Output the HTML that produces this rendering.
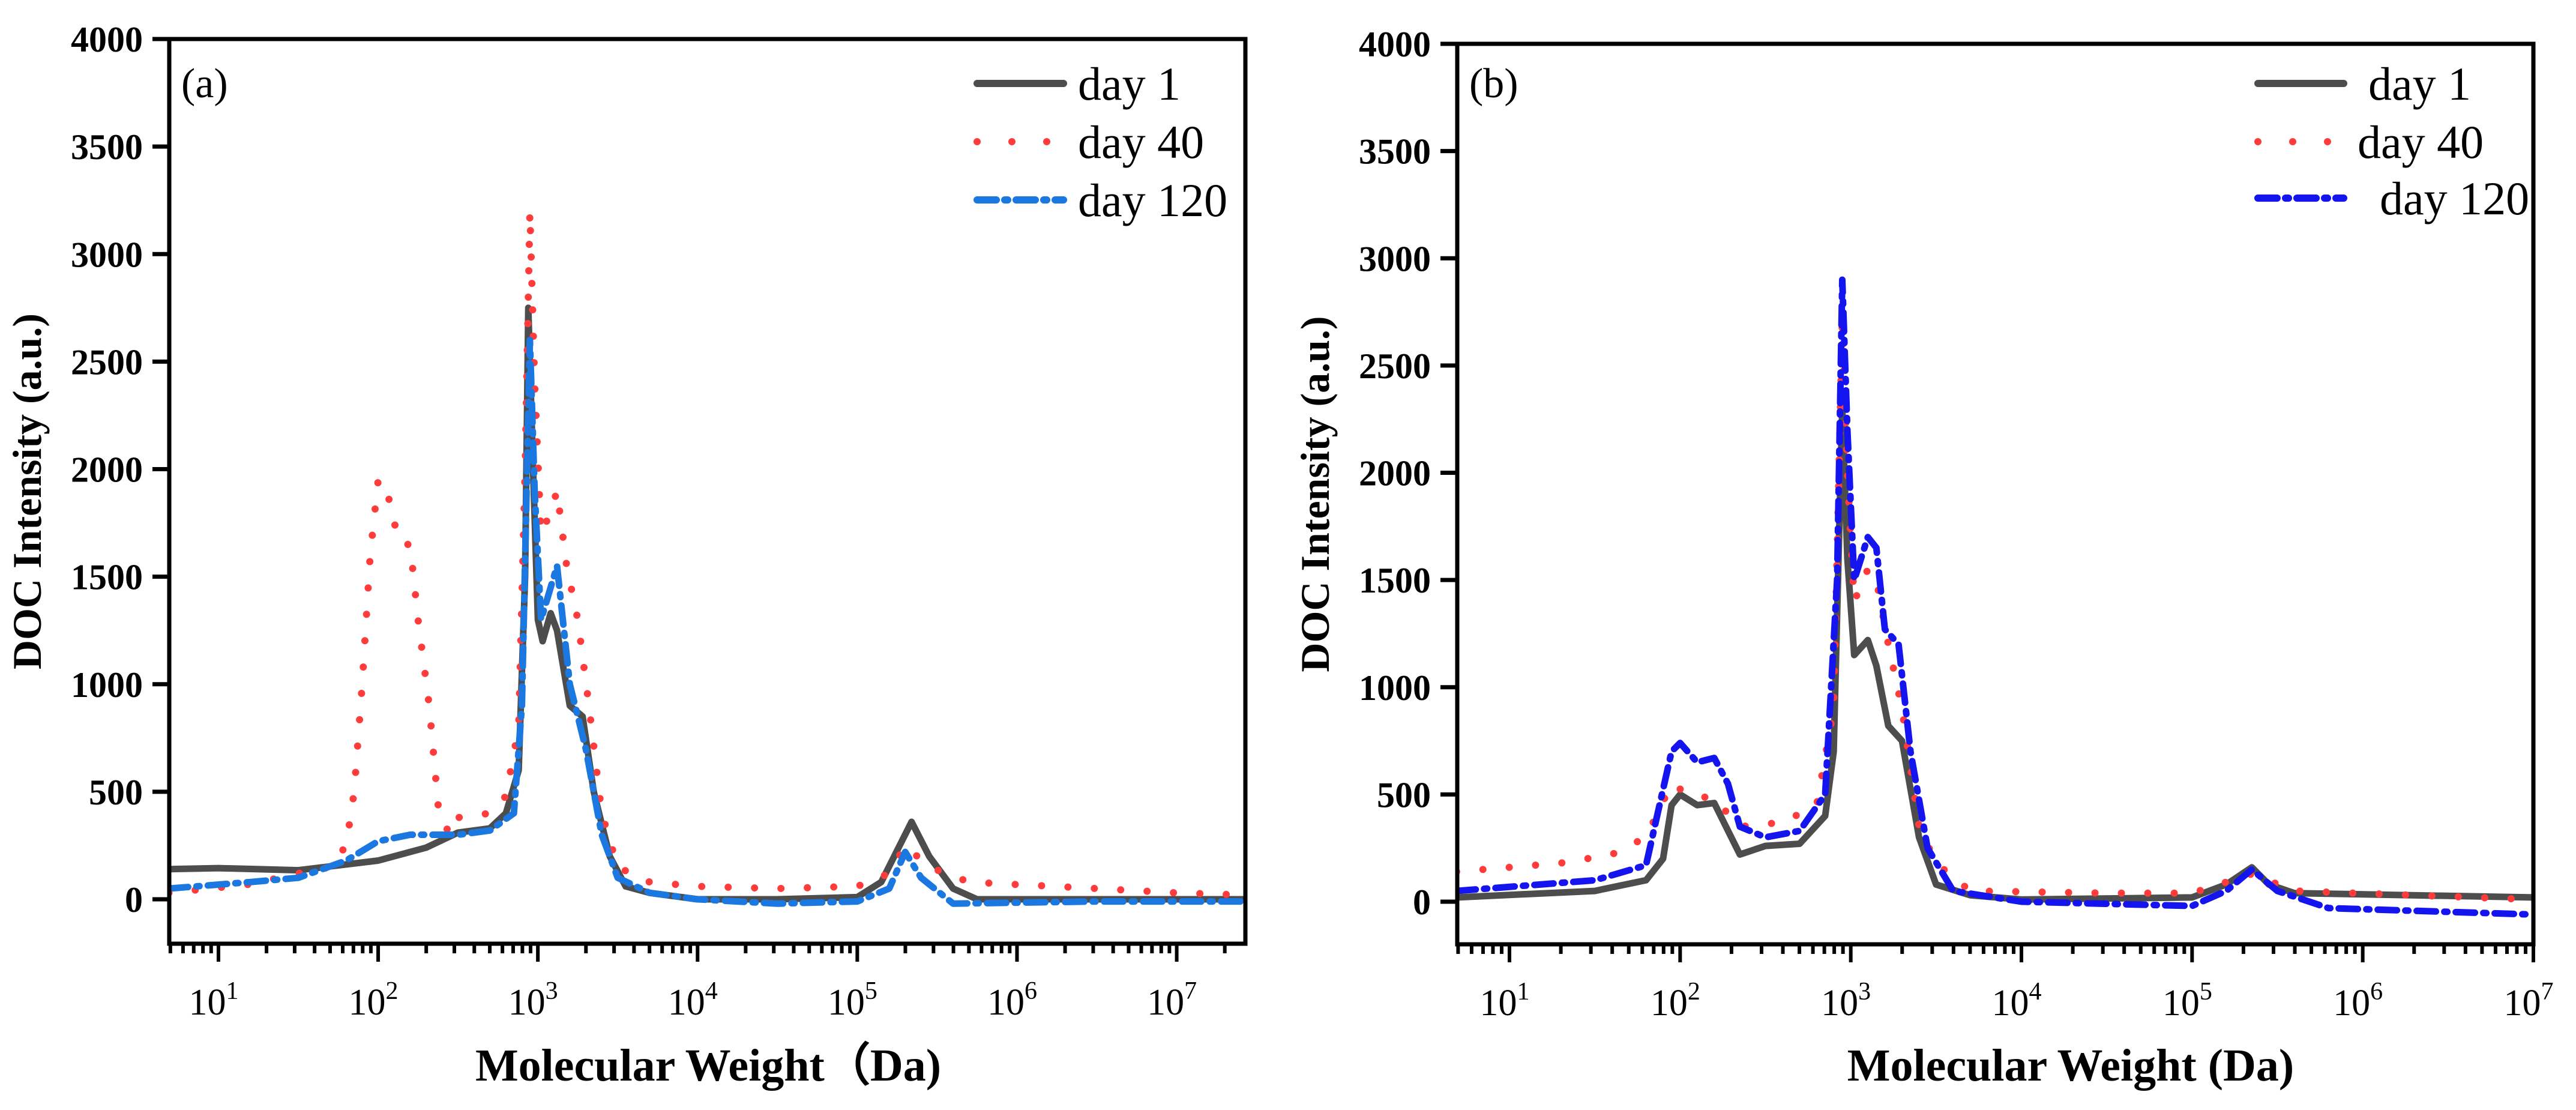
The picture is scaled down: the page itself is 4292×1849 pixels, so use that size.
<!DOCTYPE html>
<html><head><meta charset="utf-8"><style>
html,body{margin:0;padding:0;background:#fff}
svg text{font-family:"Liberation Serif",serif}
</style></head><body>
<svg id="chart" width="4292" height="1844" viewBox="0 0 4292 1844" xmlns="http://www.w3.org/2000/svg">
</svg>
<script>
// ---- Panel (a) data: log10(MW) and intensity ----
const aDay1X = [0.69,1,1.5,2,2.3,2.5,2.7,2.8,2.88,2.92,2.94,2.97,3.0,3.03,3.08,3.12,3.2,3.28,3.35,3.45,3.55,3.7,4,4.5,5,5.15,5.34,5.45,5.6,5.75,6.5,7.43];
const aDay1Y = [140,145,135,180,240,310,330,400,600,1500,2750,2000,1300,1200,1330,1250,900,850,500,200,60,30,0,0,10,80,360,200,50,0,0,0];
const aDay40X = [0.69,1.2,1.5,1.7,1.8,1.85,1.9,1.95,2.0,2.05,2.1,2.15,2.2,2.25,2.32,2.38,2.45,2.5,2.7,2.8,2.88,2.92,2.95,2.98,3.02,3.08,3.12,3.18,3.25,3.32,3.4,3.5,3.7,4,4.5,5,5.2,5.3,5.45,5.7,6.5,7,7.43];
const aDay40Y = [30,70,120,150,250,500,1000,1600,1950,1920,1750,1650,1650,1300,900,400,300,380,400,480,800,2000,3200,2400,1700,1800,1900,1550,1300,900,400,150,80,60,50,60,120,250,150,80,50,30,20];
const aDay120X = [0.69,1.2,1.5,1.8,2.0,2.2,2.5,2.7,2.85,2.9,2.95,2.98,3.02,3.08,3.12,3.2,3.3,3.4,3.5,3.7,4,4.5,5,5.2,5.3,5.4,5.6,6.5,7.43];
const aDay120Y = [50,80,100,180,270,300,300,320,400,900,2600,1900,1300,1450,1550,1000,700,300,100,30,0,-20,-10,50,220,100,-20,-10,-10];
// ---- Panel (b) data ----
const bDay1X = [0.69,1.5,1.8,1.9,1.95,2.0,2.1,2.2,2.3,2.35,2.5,2.7,2.85,2.9,2.95,2.98,3.02,3.1,3.15,3.22,3.3,3.4,3.5,3.7,4,5,5.2,5.35,5.45,5.6,7];
const bDay1Y = [20,50,100,200,450,500,450,460,300,220,260,270,400,700,2300,1600,1150,1220,1100,820,750,300,80,30,10,20,80,160,80,40,20];
const bDay40X = [0.69,1.3,1.6,1.8,1.95,2.05,2.2,2.35,2.6,2.8,2.9,2.95,2.98,3.02,3.1,3.15,3.22,3.3,3.4,3.5,3.7,4.5,5,5.35,5.6,7];
const bDay40Y = [140,180,220,300,550,500,480,350,370,450,900,2700,2000,1400,1550,1500,1200,900,350,180,50,40,40,130,50,10];
const bDay120X = [0.69,1.5,1.8,1.95,2.0,2.1,2.2,2.28,2.35,2.5,2.7,2.85,2.92,2.95,2.98,3.02,3.1,3.15,3.2,3.28,3.35,3.45,3.6,4,5,5.2,5.35,5.5,5.8,7];
const bDay120Y = [50,100,170,700,740,650,670,550,350,300,330,500,1500,2900,2200,1500,1700,1650,1270,1200,700,250,50,0,-20,50,150,50,-30,-60];
const yTicks = [0,500,1000,1500,2000,2500,3000,3500,4000];
const xDecades = [1,2,3,4,5,6,7];
const legendLabels = ["day 1","day 40","day 120"];

const NS="http://www.w3.org/2000/svg";
const svg=document.getElementById('chart');
function mk(tag,attrs,parent){const e=document.createElementNS(NS,tag);for(const k in attrs)e.setAttribute(k,attrs[k]);(parent||svg).appendChild(e);return e;}

function panel(cfg){
  const g=mk('g',{});
  
  
  const sx=v=>cfg.L+(v-cfg.xmin)/(cfg.xmax-cfg.xmin)*(cfg.R-cfg.L);
  const sy=v=>cfg.y0+(v)*(cfg.y4000-cfg.y0)/4000;
  const cid='clip'+cfg.id;
  const cp=mk('clipPath',{id:cid},g);mk('rect',{x:cfg.L,y:cfg.T,width:cfg.R-cfg.L,height:cfg.B-cfg.T},cp);
  const series=[
    {x:cfg.d1x,y:cfg.d1y,stroke:'#4d4d4d',w:11,dash:null,name:'day-1-line'},
    {x:cfg.d40x,y:cfg.d40y,stroke:'#ff3c3c',w:12,dash:'0 44',name:'day-40-line'},
    {x:cfg.d120x,y:cfg.d120y,stroke:cfg.blue,w:11,dash:'32 14 5 14',name:'day-120-line'}];
  series.forEach(s=>{
    let d='';
    for(let i=0;i<s.x.length;i++){d+=(i?'L':'M')+sx(s.x[i]).toFixed(1)+','+sy(s.y[i]).toFixed(1);}
    const p=mk('path',{d:d,fill:'none',stroke:s.stroke,'stroke-width':s.w,'stroke-linecap':'round','stroke-linejoin':'round','clip-path':'url(#'+cid+')'},g);
    if(s.dash)p.setAttribute('stroke-dasharray',s.dash);
    
    
  });
  const fr=mk('rect',{x:cfg.L,y:cfg.T,width:cfg.R-cfg.L,height:cfg.B-cfg.T,fill:'none',stroke:'#000','stroke-width':7},g);
  
  
  yTicks.forEach(v=>{
    const y=sy(v);
    mk('line',{x1:cfg.L-28,x2:cfg.L,y1:y,y2:y,stroke:'#000','stroke-width':7},g);
    const t=mk('text',{x:cfg.L-44,y:y+21,'text-anchor':'end','font-size':60,'font-weight':'bold'},g);
    t.textContent=v;
    
    
  });
  for(let dec=0;dec<=7;dec++){
    for(let m=1;m<10;m++){
      const lv=dec+Math.log10(m);
      if(lv<cfg.xmin-1e-6||lv>cfg.xmax+1e-6)continue;
      const x=sx(lv);
      mk('line',{x1:x,x2:x,y1:cfg.B,y2:cfg.B+(m===1?30:16),stroke:'#000','stroke-width':6},g);
    }
  }
  xDecades.forEach(dv=>{
    const x=sx(dv);
    const t=mk('text',{x:x-8,y:cfg.B+118,'text-anchor':'middle','font-size':62},g);
    
    
    t.appendChild(document.createTextNode('10'));
    const sp=mk('tspan',{dy:-26,'font-size':42},t);sp.textContent=dv;
  });
  const yt=mk('text',{x:0,y:0,'text-anchor':'middle','font-size':68,'font-weight':'bold',transform:'translate('+(cfg.L-214)+','+((cfg.T+cfg.B)/2)+') rotate(-90)'},g);
  yt.textContent='DOC Intensity (a.u.)';
  
  
  const xt=mk('text',{x:cfg.xtx,y:1800,'text-anchor':'middle','font-size':76,'font-weight':'bold'},g);
  xt.textContent=cfg.xtitle;
  
  
  const pl=mk('text',{x:cfg.L+20,y:162,'font-size':70},g);
  pl.textContent=cfg.label;
  
  
  const cols=['#4d4d4d','#ff3c3c',cfg.blue];
  const dashes=[null,'0 58','32 14 5 14'];
  legendLabels.forEach((lab,i)=>{
    const y=cfg.legY[i];
    const ln=mk('line',{x1:cfg.legX1,x2:cfg.legX2,y1:y,y2:y,stroke:cols[i],'stroke-width':12,'stroke-linecap':'round'},g);
    if(dashes[i])ln.setAttribute('stroke-dasharray',dashes[i]);
    
    
    const t=mk('text',{x:cfg.legTX[i],y:y+27,'font-size':78},g);
    t.textContent=lab;
    
    
  });
}
panel({id:'a',name:'panel-a',L:282,R:2075,T:65,B:1572,xmin:0.692,xmax:7.43,y0:1498,y4000:65,
  d1x:aDay1X,d1y:aDay1Y,d40x:aDay40X,d40y:aDay40Y,d120x:aDay120X,d120y:aDay120Y,blue:'#1a78e0',
  xtitle:'Molecular Weight（Da)',xtx:1180,label:'(a)',legX1:1628,legX2:1772,legY:[139,236,333],legTX:[1796,1796,1796]});
panel({id:'b',name:'panel-b',L:2428,R:4221,T:73,B:1573,xmin:0.694,xmax:7,y0:1502,y4000:73,
  d1x:bDay1X,d1y:bDay1Y,d40x:bDay40X,d40y:bDay40Y,d120x:bDay120X,d120y:bDay120Y,blue:'#1414ee',
  xtitle:'Molecular Weight (Da)',xtx:3450,label:'(b)',legX1:3762,legX2:3905,legY:[139,236,330],legTX:[3946,3928,3965]});
</script>
</body></html>
